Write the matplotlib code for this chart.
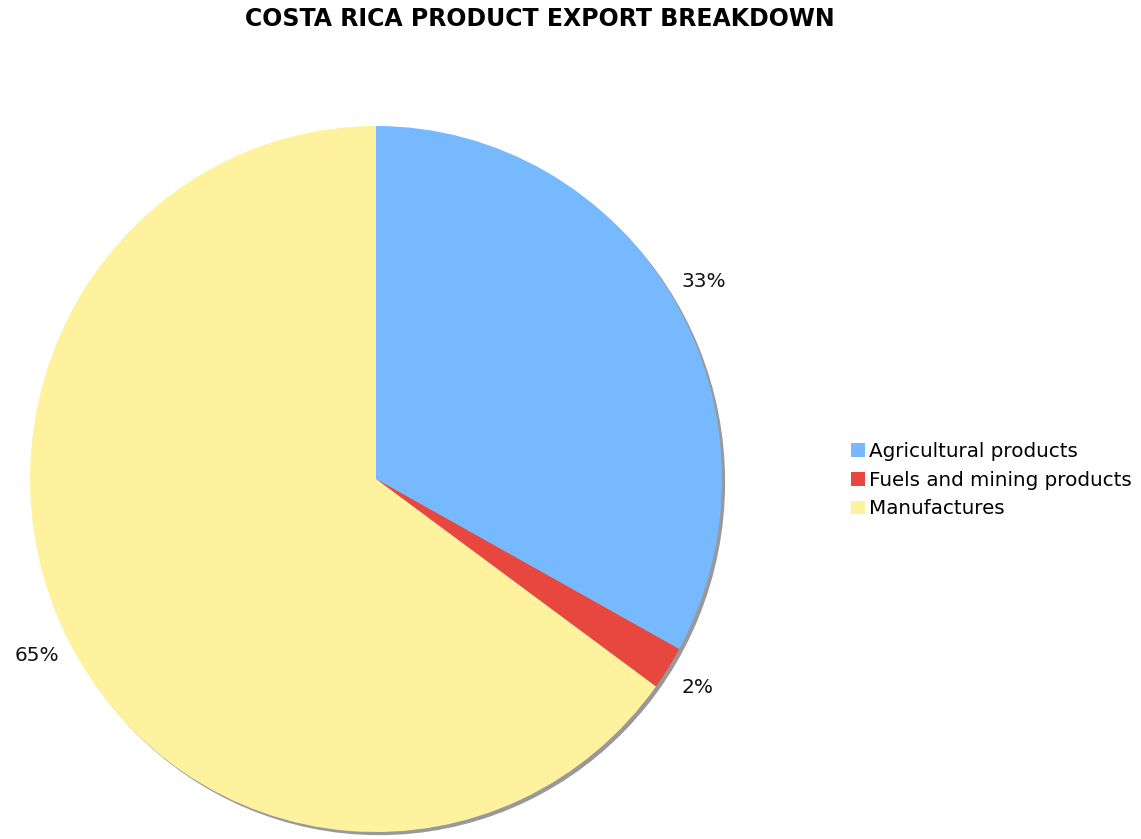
import matplotlib
matplotlib.use("Agg")
import matplotlib.pyplot as plt
from matplotlib.patches import Ellipse

# export shares (%)
categories = ["Agricultural products", "Fuels and mining products", "Manufactures"]
shares = [33, 2, 65]
colors = ["#76B9FF", "#E8473F", "#FFF29E"]

plt.rcParams["font.family"] = ["DejaVu Sans"]

fig = plt.figure(figsize=(11.41, 8.39), dpi=100)
ax = fig.add_axes([30 / 1141, 7 / 839, 692 / 1141, 706 / 839])

wedges, texts, autotexts = ax.pie(
    shares, colors=colors, startangle=90, counterclock=False,
    autopct="%1.0f%%", pctdistance=1.1,
    wedgeprops=dict(linewidth=0),
    textprops=dict(fontsize=14.5, color="#111111"),
)

# grey drop shadow under the pie
ax.add_patch(Ellipse((0.009, -0.009), 2, 2, facecolor="#999999",
                     edgecolor="none", zorder=0, clip_on=False))

ax.set_aspect("auto")
ax.set_xlim(-1, 1)
ax.set_ylim(-1, 1)
ax.axis("off")

fig.text(540 / 1141, 1 - 19 / 839, "COSTA RICA PRODUCT EXPORT BREAKDOWN",
         ha="center", va="center", fontsize=17, fontweight="bold")

fig.legend(wedges, categories, loc="center left",
           bbox_to_anchor=(841 / 1141, 1 - 480 / 839), frameon=False,
           fontsize=14.3, handlelength=0.7, handleheight=0.7,
           handletextpad=0.2, labelspacing=0.5, borderpad=0)

fig.savefig("out.png", dpi=100)
